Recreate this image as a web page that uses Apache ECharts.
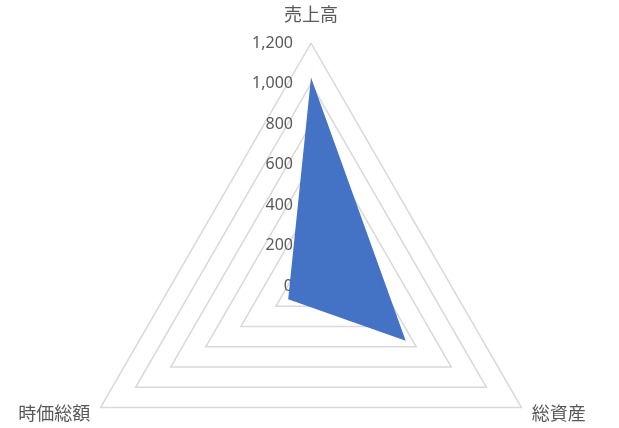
<!DOCTYPE html>
<html>
<head>
<meta charset="utf-8">
<script src="https://cdn.jsdelivr.net/npm/echarts@6/dist/echarts.min.js"></script>
<style>
  html, body { margin: 0; padding: 0; background: #fff; }
  #chart { width: 619px; height: 428px; }
</style>
</head>
<body>
<div id="chart"></div>
<script>
// ── データ（ECharts の指標順：上 → 左下 → 右下） ──
const indicatorNames = ['売上高', '時価総額', '総資産'];
const seriesValues   = [1030, 130, 540];
const axisMax = 1200;
const tickStep = 200;

const chart = echarts.init(document.getElementById('chart'));

chart.setOption({
  animation: false,
  radar: {
    center: [311, 286],
    radius: 243,
    startAngle: 90,
    shape: 'polygon',
    splitNumber: axisMax / tickStep,
    indicator: indicatorNames.map((name, i) => ({
      name, min: 0, max: axisMax,
      nameGap: i === 0 ? 20 : 12,
      // 目盛ラベルは先頭（上）の軸だけ
      axisLabel: i === 0 ? { show: true } : undefined,
    })),
    axisName: {
      color: '#595959',
      fontSize: 18,
      fontFamily: '"Noto Sans CJK JP", sans-serif',
    },
    axisLine: { show: false },
    axisTick: { show: false },
    axisLabel: {
      show: false,
      showMinLabel: true,
      showMaxLabel: true,
      margin: 18,
      color: '#595959',
      fontSize: 16,
      fontFamily: '"Noto Sans", sans-serif',
      formatter: v => v.toLocaleString('en-US'),
    },
    splitLine: { lineStyle: { color: '#D9D9D9', width: 1.5 } },
    splitArea: { show: false },
  },
  series: [{
    type: 'radar',
    symbol: 'none',
    lineStyle: { width: 0 },
    areaStyle: { color: '#4472C4', opacity: 1 },
    data: [{ value: seriesValues }],
  }],
});
</script>
</body>
</html>
